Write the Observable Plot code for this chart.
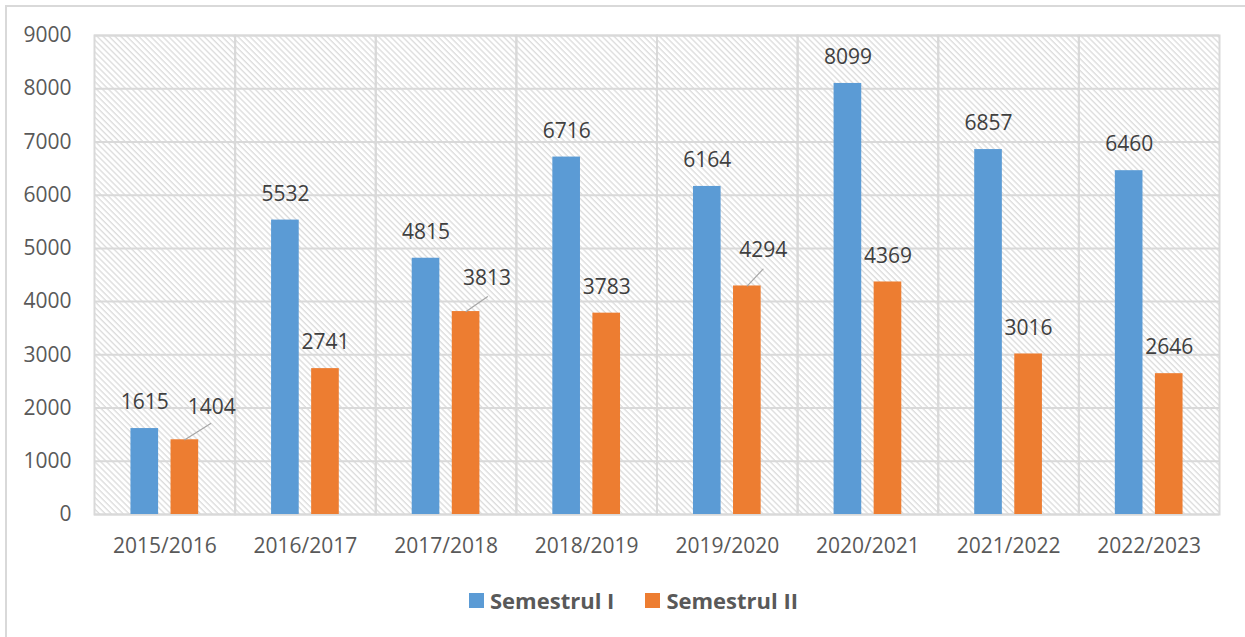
<!DOCTYPE html>
<html><head><meta charset="utf-8">
<script src="https://cdn.jsdelivr.net/npm/d3@7"></script>
<script src="https://cdn.jsdelivr.net/npm/@observablehq/plot@0.6"></script>
<style>
html,body{margin:0;padding:0;background:#fff;}
#wrap{position:relative;width:1245px;height:637px;overflow:hidden;background:#fff;}
#border{position:absolute;left:5px;top:5px;width:1400px;height:800px;border-left:2px solid #d9d9d9;border-top:2px solid #d9d9d9;}
#chart{position:absolute;left:0;top:0;}
#legend{position:absolute;left:469px;top:585px;display:flex;align-items:center;font-family:'Open Sans';font-weight:bold;font-size:22px;line-height:30px;color:#595959;}
.item{display:flex;align-items:center;margin-right:31px;}
.sw{width:15px;height:15px;margin-right:6px;}
</style></head>
<body>
<div id="wrap"><div id="border"></div><div id="chart"></div><div id="legend"></div></div>
<script>
const years = ["2015/2016","2016/2017","2017/2018","2018/2019","2019/2020","2020/2021","2021/2022","2022/2023"];
const semestrulI = [1615,5532,4815,6716,6164,8099,6857,6460];
const semestrulII = [1404,2741,3813,3783,4294,4369,3016,2646];
const seriesNames = ["Semestrul I","Semestrul II"];
const seriesColors = ["#5b9bd5","#ed7d31"];
const yTicks = [0,1000,2000,3000,4000,5000,6000,7000,8000,9000];

const data = years.flatMap((y,i)=>[
  {year:y, sem:seriesNames[0], value:semestrulI[i]},
  {year:y, sem:seriesNames[1], value:semestrulII[i]}
]);

// labels moved away from their bars, with a leader line (layout only)
const leaders = [
  {year:"2015/2016", sem:"Semestrul II", dx:27, dy:-33, length:30.5, rotate:58},
  {year:"2017/2018", sem:"Semestrul II", dx:21, dy:-33, length:26, rotate:55},
  {year:"2019/2020", sem:"Semestrul II", dx:16, dy:-36, length:23, rotate:43}
];
const isLeader = d => leaders.some(l => l.year===d.year && l.sem===d.sem);
const lineShape = {draw(context, l){ context.moveTo(0,0); context.lineTo(0,-l); }};

const svg = Plot.plot({
  width:1245, height:570,
  marginLeft:94, marginRight:26, marginTop:35, marginBottom:56,
  style:{fontFamily:"'Open Sans'", fontSize:"21px", color:"#595959", background:"transparent", overflow:"visible"},
  facet:{data, x:"year"},
  fx:{domain:years, padding:0, round:false, axis:"bottom", tickSize:0, tickPadding:24, label:null},
  x:{domain:seriesNames, axis:null, round:false, paddingInner:0.31, paddingOuter:0.91},
  y:{domain:[0,9000], ticks:yTicks, tickSize:0, tickPadding:23, label:null, tickFormat:d=>String(d)},
  color:{domain:seriesNames, range:seriesColors},
  marks:[
    Plot.frame({fill:"url(#hatch)", stroke:"none"}),
    Plot.ruleY(yTicks, {stroke:"#d9d9d9", strokeWidth:2}),
    Plot.frame({stroke:"#d9d9d9", strokeWidth:2}),
    Plot.barY(data, {x:"sem", y:"value", fill:"sem"}),
    Plot.text(data, {filter:d=>!isLeader(d), x:"sem", y:"value", text:d=>String(d.value), dy:-26, fontSize:21, fill:"#404040"}),
    ...leaders.flatMap(l => {
      const f = d => d.year===l.year && d.sem===l.sem;
      return [
        Plot.vector(data, {filter:f, x:"sem", y:"value", length:l.length, rotate:l.rotate, anchor:"start", shape:lineShape, stroke:"#a6a6a6", strokeWidth:1.2}),
        Plot.text(data, {filter:f, x:"sem", y:"value", text:d=>String(d.value), dx:l.dx, dy:l.dy, fontSize:21, fill:"#404040"})
      ];
    })
  ]
});

d3.select(svg).insert("defs", ":first-child").html(
  '<pattern id="hatch" width="4.2" height="10" patternUnits="userSpaceOnUse" patternTransform="rotate(-45)">' +
  '<line x1="1" y1="0" x2="1" y2="10" stroke="#dddddd" stroke-width="1.4"/></pattern>'
);
document.getElementById("chart").appendChild(svg);

const legend = d3.select("#legend");
seriesNames.forEach((n,i)=>{
  const it = legend.append("div").attr("class","item");
  it.append("div").attr("class","sw").style("background", seriesColors[i]);
  it.append("span").text(n);
});
</script>
</body></html>
